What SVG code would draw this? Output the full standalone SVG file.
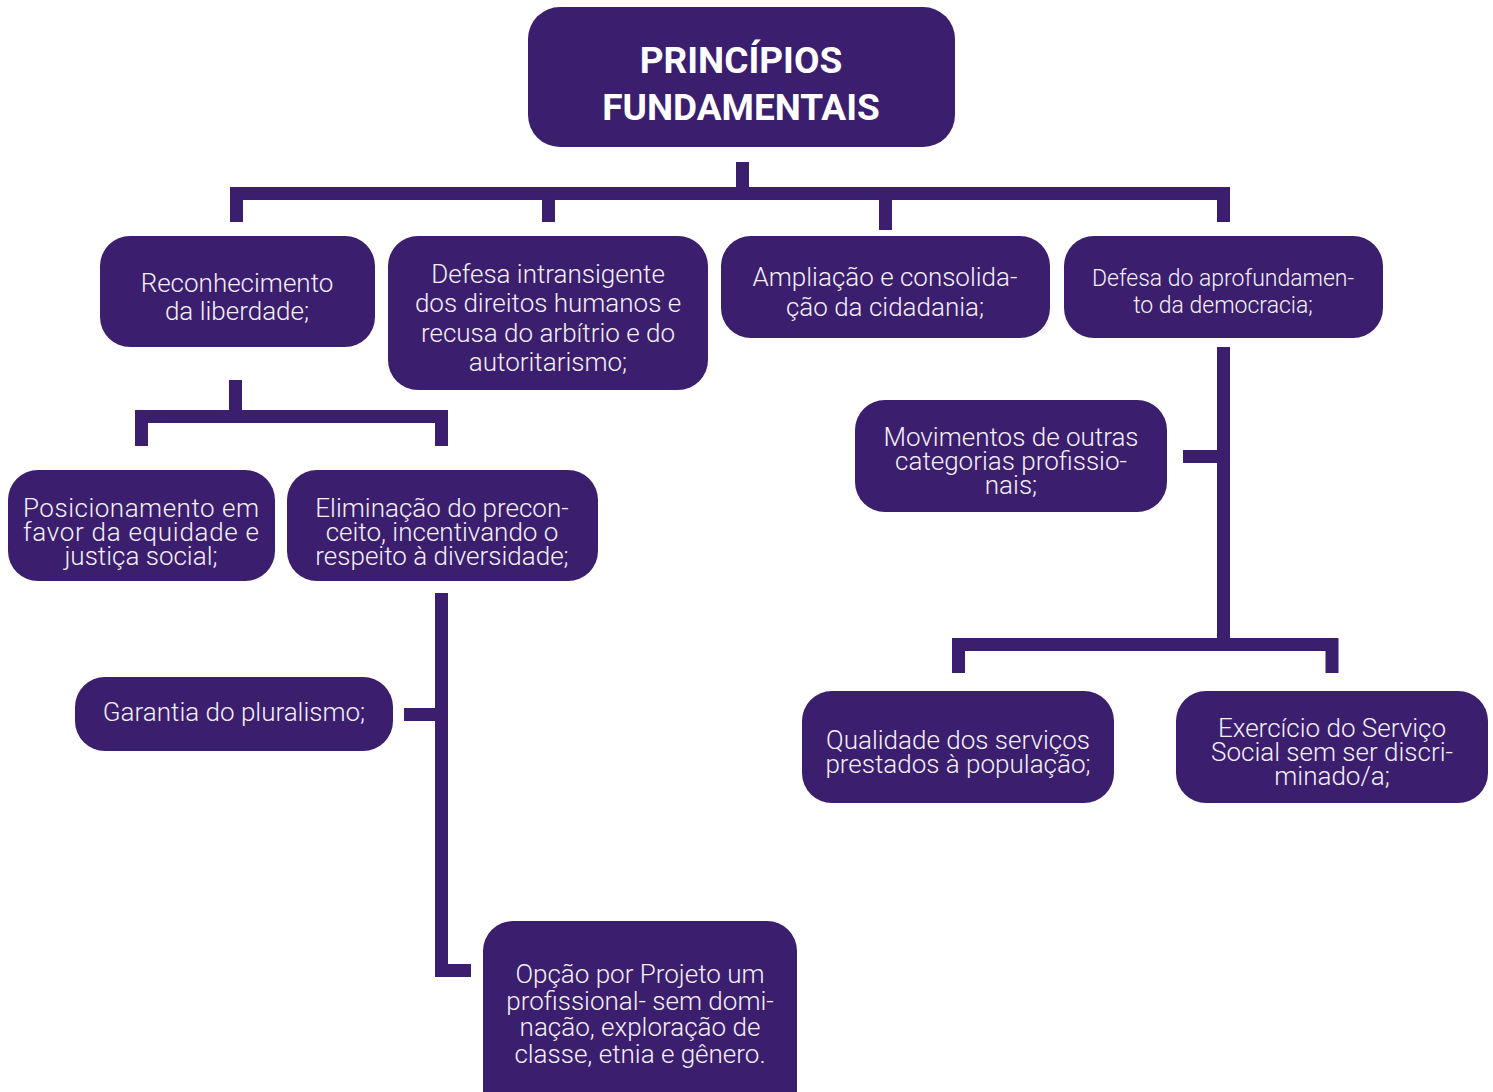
<svg xmlns="http://www.w3.org/2000/svg" width="1493" height="1092" viewBox="0 0 1493 1092">
<style>
.box{fill:#3b1e6e}
.t{fill:#f4f0f8;font-family:Roboto,"Liberation Sans",sans-serif;font-weight:300;font-size:26px;text-anchor:middle}
.s{font-size:23px}
.title{fill:#ffffff;font-family:Roboto,"Liberation Sans",sans-serif;font-weight:700;font-size:37px;text-anchor:middle}
.c{fill:none;stroke:#3b1e6e;stroke-width:13;stroke-linejoin:miter;stroke-linecap:butt}
</style>
<rect width="1493" height="1092" fill="#ffffff"/>
<g id="connectors">
<path class="c" d="M742.5 162 V193.5"/>
<path class="c" d="M236.5 222 V193.5 H1223.5 V222"/>
<path class="c" d="M548.5 193.5 V222"/>
<path class="c" d="M885.5 193.5 V230"/>
<path class="c" d="M235.5 380 V416.5"/>
<path class="c" d="M141.5 446 V416.5 H441.5 V446"/>
<path class="c" d="M441.5 593 V970.5 H471"/>
<path class="c" d="M404 714.5 H441.5"/>
<path class="c" d="M1223.5 347 V644.5"/>
<path class="c" d="M1183 456.5 H1223.5"/>
<path class="c" d="M958.5 673 V644.5 H1332 V673"/>
</g>
<g id="n-root">
<rect class="box" x="528" y="7" width="427" height="140" rx="32"/>
<text class="title" x="741" y="73">PRINCÍPIOS</text>
<text class="title" x="741" y="120">FUNDAMENTAIS</text>
</g>
<g id="n-liberdade">
<rect class="box" x="100" y="236" width="275" height="111" rx="30"/>
<text class="t" x="237" y="292">Reconhecimento</text>
<text class="t" x="237" y="320">da liberdade;</text>
</g>
<g id="n-direitos">
<rect class="box" x="388" y="236" width="320" height="154" rx="30"/>
<text class="t" x="548" y="283">Defesa intransigente</text>
<text class="t" x="548" y="312">dos direitos humanos e</text>
<text class="t" x="548" y="342">recusa do arbítrio e do</text>
<text class="t" x="548" y="371">autoritarismo;</text>
</g>
<g id="n-cidadania">
<rect class="box" x="721" y="236" width="329" height="102" rx="30"/>
<text class="t" x="885" y="286">Ampliação e consolida-</text>
<text class="t" x="885" y="316">ção da cidadania;</text>
</g>
<g id="n-democracia">
<rect class="box" x="1064" y="236" width="319" height="102" rx="30"/>
<text class="t s" x="1223" y="286">Defesa do aprofundamen-</text>
<text class="t s" x="1223" y="313">to da democracia;</text>
</g>
<g id="n-equidade">
<rect class="box" x="8" y="470" width="267" height="111" rx="30"/>
<text class="t" x="141" y="517" textLength="236" lengthAdjust="spacing">Posicionamento em</text>
<text class="t" x="141" y="541" textLength="236" lengthAdjust="spacing">favor da equidade e</text>
<text class="t" x="141" y="565">justiça social;</text>
</g>
<g id="n-preconceito">
<rect class="box" x="287" y="470" width="311" height="111" rx="30"/>
<text class="t" x="442" y="517">Eliminação do precon-</text>
<text class="t" x="442" y="541">ceito, incentivando o</text>
<text class="t" x="442" y="565">respeito à diversidade;</text>
</g>
<g id="n-pluralismo">
<rect class="box" x="75" y="677" width="318" height="74" rx="30"/>
<text class="t" x="234" y="721">Garantia do pluralismo;</text>
</g>
<g id="n-projeto">
<rect class="box" x="483" y="921" width="314" height="200" rx="30"/>
<text class="t" x="640" y="983">Opção por Projeto um</text>
<text class="t" x="640" y="1010">profissional- sem domi-</text>
<text class="t" x="640" y="1036">nação, exploração de</text>
<text class="t" x="640" y="1063">classe, etnia e gênero.</text>
</g>
<g id="n-movimentos">
<rect class="box" x="855" y="400" width="312" height="112" rx="30"/>
<text class="t" x="1011" y="446">Movimentos de outras</text>
<text class="t" x="1011" y="470">categorias profissio-</text>
<text class="t" x="1011" y="494">nais;</text>
</g>
<g id="n-qualidade">
<rect class="box" x="802" y="691" width="312" height="112" rx="30"/>
<text class="t" x="958" y="749">Qualidade dos serviços</text>
<text class="t" x="958" y="773">prestados à população;</text>
</g>
<g id="n-exercicio">
<rect class="box" x="1176" y="691" width="312" height="112" rx="30"/>
<text class="t" x="1332" y="737">Exercício do Serviço</text>
<text class="t" x="1332" y="761">Social sem ser discri-</text>
<text class="t" x="1332" y="785">minado/a;</text>
</g>
</svg>
